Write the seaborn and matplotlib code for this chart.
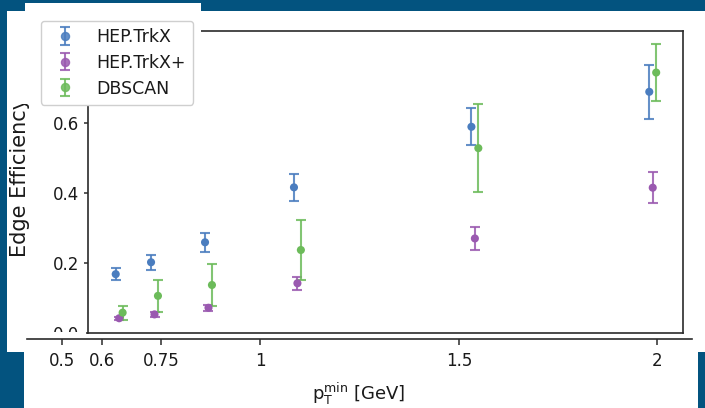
import numpy as np
import pandas as pd
import matplotlib
matplotlib.use("Agg")
import matplotlib.pyplot as plt
from matplotlib.patches import Rectangle
import seaborn as sns

# ---- data -------------------------------------------------------------
pt_min = [0.644, 0.733, 0.869, 1.093, 1.540, 1.988]
methods = ["HEP.TrkX", "HEP.TrkX+", "DBSCAN"]

eff_trkx = [0.169, 0.203, 0.260, 0.417, 0.590, 0.690]
err_trkx = [0.018, 0.022, 0.027, 0.039, 0.053, 0.077]

eff_trkx_plus = [0.043, 0.054, 0.073, 0.143, 0.271, 0.416]
err_trkx_plus = [0.005, 0.006, 0.008, 0.018, 0.033, 0.045]

eff_dbscan = [0.059, 0.107, 0.138, 0.238, 0.529, 0.745]
err_dbscan = [0.020, 0.046, 0.059, 0.086, 0.125, 0.082]

x_ticks = [0.5, 0.6, 0.75, 1, 1.5, 2]
x_ticklabels = ["0.5", "0.6", "0.75", "1", "1.5", "2"]
y_ticks = [0.0, 0.2, 0.4, 0.6, 0.8]

# ---- style ------------------------------------------------------------
sns.set_theme(style="ticks")
plt.rcParams["font.family"] = ["DejaVu Sans"]
TEXT = "#1a1a1a"
SPINE = "#2b2b2b"
BLUE_BG = "#03537f"
palette = {"HEP.TrkX": "#4a7dbf", "HEP.TrkX+": "#9a59b0", "DBSCAN": "#6cbb5a"}
dodge = {"HEP.TrkX": -0.0087, "HEP.TrkX+": 0.0, "DBSCAN": 0.0087}

W, H = 705, 408
fig = plt.figure(figsize=(W / 100, H / 100), dpi=100)
fig.patch.set_facecolor(BLUE_BG)


def rect(x0, y0, x1, y1):
    """Figure-fraction rectangle from pixel corners (origin top-left)."""
    return (x0 / W, 1 - y1 / H), (x1 - x0) / W, (y1 - y0) / H


def panel(x0, y0, x1, y1, z):
    xy, w, h = rect(x0, y0, x1, y1)
    fig.add_artist(Rectangle(xy, w, h, transform=fig.transFigure,
                             facecolor="white", edgecolor="none", zorder=z))


def axes_box(x0, y0, x1, y1):
    (x, y), w, h = rect(x0, y0, x1, y1)
    return [x, y, w, h]


# white card behind the plot
panel(7, 11, 705, 352, -1)

# ---- main panel -------------------------------------------------------
ax = fig.add_axes(axes_box(88, 31, 683, 333.3))
ax.set_facecolor("none")
px_per_unit = 397.0
x0_val, x0_px = 0.5, 62.0
ax.set_xlim(x0_val + (88 - x0_px) / px_per_unit, x0_val + (683 - x0_px) / px_per_unit)
ax.set_ylim(0, (333.3 - 31) / 350.0)

series = {
    "HEP.TrkX": (eff_trkx, err_trkx),
    "HEP.TrkX+": (eff_trkx_plus, err_trkx_plus),
    "DBSCAN": (eff_dbscan, err_dbscan),
}
rows = []
for m in methods:
    vals, errs = series[m]
    for p, v, e in zip(pt_min, vals, errs):
        rows.append({"method": m, "pt": p + dodge[m], "eff": v, "err": e})
df = pd.DataFrame(rows)

handles = []
for m in methods:
    sub = df[df["method"] == m]
    ax.errorbar(sub["pt"], sub["eff"], yerr=sub["err"], fmt="none",
                ecolor=palette[m], elinewidth=1.5, capsize=3.3, capthick=1.5,
                alpha=0.85, zorder=2)
    h = ax.errorbar([np.nan], [np.nan], yerr=[np.nan], fmt="o",
                    color=palette[m], ms=5.8, elinewidth=1.5, capsize=3.3,
                    capthick=1.5, alpha=0.85, label=m)
    handles.append(h)

sns.scatterplot(data=df, x="pt", y="eff", hue="method", palette=palette,
                hue_order=methods, s=34, edgecolor="none", legend=False,
                ax=ax, zorder=3)

ax.set_xlabel("")
ax.set_ylabel("")
ax.set_xticks([])
ax.set_yticks(y_ticks)
ax.set_yticklabels([f"{v:.1f}" for v in y_ticks])
ax.tick_params(axis="y", length=3, width=1.1, pad=3.5, labelsize=12,
               colors=SPINE, labelcolor=TEXT)
for s in ax.spines.values():
    s.set_visible(True)
    s.set_color(SPINE)
    s.set_linewidth(1.2)

fig.text(20 / W, 1 - 177 / H, "Edge Efficiency", rotation=90, ha="center",
         va="center", fontsize=15, color=TEXT, zorder=0.5)

# white blocks laid over the upper-left corner and the lower strip
panel(25, 3, 201, 104, 1)
panel(7, 11, 25, 104, 1)
panel(24, 335, 698, 408, 1)
panel(24, 331.8, 86, 335.5, 1)

# ---- separate x axis strip -------------------------------------------
ax2 = fig.add_axes(axes_box(26.7, 330, 691.7, 339.3))
ax2.set_zorder(2)
ax2.set_facecolor("none")
ax2.set_xlim(x0_val + (26.7 - x0_px) / px_per_unit, x0_val + (691.7 - x0_px) / px_per_unit)
ax2.set_ylim(0, 1)
for side in ("left", "right", "top"):
    ax2.spines[side].set_visible(False)
ax2.spines["bottom"].set_color(SPINE)
ax2.spines["bottom"].set_linewidth(1.2)
ax2.set_yticks([])
ax2.set_xticks(x_ticks)
ax2.set_xticklabels(x_ticklabels)
ax2.tick_params(axis="x", length=4, width=1.1, pad=5, labelsize=12,
                colors=SPINE, labelcolor=TEXT)
ax2.set_xlabel(r"p$_\mathregular{T}^\mathregular{min}$ [GeV]", fontsize=13,
               color=TEXT, labelpad=8)

# ---- legend -----------------------------------------------------------
leg = fig.legend(handles=handles, labels=methods, loc="upper left",
                 bbox_to_anchor=(41 / W, 1 - 21 / H), borderaxespad=0,
                 fontsize=12.5, frameon=True, fancybox=True, framealpha=1,
                 edgecolor="#cfcfcf", labelspacing=0.45, handletextpad=0.8,
                 borderpad=0.4)
leg.set_zorder(5)
for t in leg.get_texts():
    t.set_color(TEXT)

fig.savefig("out.png", dpi=100, facecolor=fig.get_facecolor())
